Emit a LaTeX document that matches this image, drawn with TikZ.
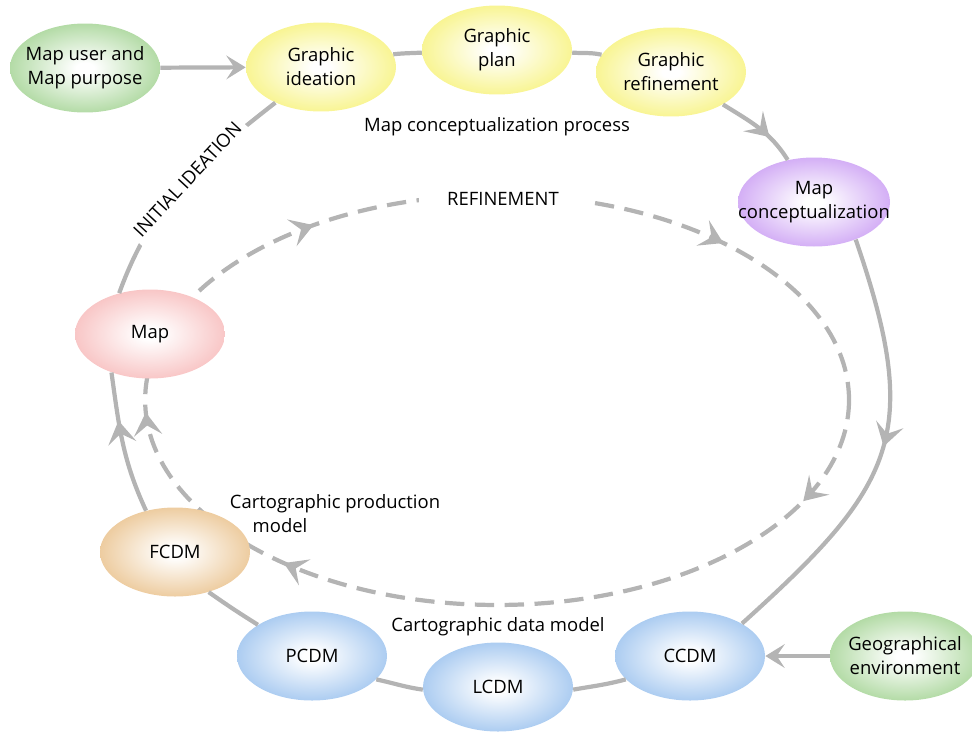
\documentclass[tikz,border=0pt]{standalone}
\usepackage{fontspec}
\setmainfont{Open Sans}
\usetikzlibrary{shapes.geometric,arrows.meta,decorations.markings}
\definecolor{lgray}{RGB}{180,180,180}
\definecolor{cgreen}{RGB}{152,206,134}
\definecolor{cyellow}{RGB}{246,241,108}
\definecolor{cpurple}{RGB}{196,146,242}
\definecolor{cpink}{RGB}{246,178,178}
\definecolor{ctan}{RGB}{231,186,126}
\definecolor{cblue}{RGB}{142,186,236}
\pgfdeclareradialshading{shgreen}{\pgfpoint{0bp}{0bp}}{color(0bp)=(white); color(3bp)=(white); color(33bp)=(cgreen); color(50bp)=(cgreen)}
\pgfdeclareradialshading{shyellow}{\pgfpoint{0bp}{0bp}}{color(0bp)=(white); color(3bp)=(white); color(33bp)=(cyellow); color(50bp)=(cyellow)}
\pgfdeclareradialshading{shpurple}{\pgfpoint{0bp}{0bp}}{color(0bp)=(white); color(3bp)=(white); color(33bp)=(cpurple); color(50bp)=(cpurple)}
\pgfdeclareradialshading{shpink}{\pgfpoint{0bp}{0bp}}{color(0bp)=(white); color(3bp)=(white); color(33bp)=(cpink); color(50bp)=(cpink)}
\pgfdeclareradialshading{shtan}{\pgfpoint{0bp}{0bp}}{color(0bp)=(white); color(3bp)=(white); color(33bp)=(ctan); color(50bp)=(ctan)}
\pgfdeclareradialshading{shblue}{\pgfpoint{0bp}{0bp}}{color(0bp)=(white); color(3bp)=(white); color(33bp)=(cblue); color(50bp)=(cblue)}
\tikzset{
  blob/.style={ellipse, minimum width=3cm, minimum height=1.78cm, inner sep=0pt, draw=none, shade, shading=#1},
  lbl/.style={align=center, font=\fontsize{10.5}{13.6}\selectfont, text=black},
  txt/.style={align=center, font=\fontsize{10.5}{13.6}\selectfont, text=black, inner sep=1pt},
  conn/.style={color=lgray, line width=2.4pt},
  barb/.tip={Stealth[length=11pt,width=13.5pt,inset=4.5pt]},
  midbarb/.tip={Stealth[length=13pt,width=16pt,inset=5.5pt]},
  tip/.style={-barb},
  midarrow/.style={postaction={decorate}, decoration={markings, mark=at position #1 with {\arrow{midbarb}}}},
  dashconn/.style={conn, dash pattern=on 11pt off 6pt},
}
\begin{document}
\begin{tikzpicture}[x=0.02cm,y=0.02cm]
\useasboundingbox (0,0) rectangle (972,-731);
% refinement loop (dashed)
\draw[dashconn, postaction={decorate}, decoration={markings,
   mark=at position 0.064 with {\arrow{midbarb}},
   mark=at position 0.373 with {\arrow{midbarb}},
   mark=at position 0.493 with {\arrow{midbarb}},
   mark=at position 0.645 with {\arrow{midbarb}},
   mark=at position 0.881 with {\arrow{midbarb}}}]
   (849,-400) arc[start angle=0, end angle=-360, x radius=7.04cm, y radius=4.1cm];
\node[txt, fill=white, inner xsep=16pt, inner ysep=3pt] (refl) at (503,-199) {REFINEMENT};

% nodes
\node[blob=shgreen, label={[lbl]center:Map user and\\Map purpose}] (user) at (85,-68) {};
\node[blob=shyellow, label={[lbl]center:Graphic\\ideation}] (ideation) at (321,-67) {};
\node[blob=shyellow, label={[lbl]center:Graphic\\plan}] (plan) at (497,-50) {};
\node[blob=shyellow, label={[lbl]center:Graphic\\refinement}] (refine) at (671,-72) {};
\node[blob=shpurple, minimum width=3.04cm, label={[lbl]center:Map\\conceptualization}] (concept) at (814,-202) {};
\node[blob=shpink, label={[lbl]center:Map}] (map) at (150,-334) {};
\node[blob=shtan, label={[lbl]center:FCDM}] (fcdm) at (175,-552) {};
\node[blob=shblue, label={[lbl]center:PCDM}] (pcdm) at (312,-656) {};
\node[blob=shblue, label={[lbl]center:LCDM}] (lcdm) at (498,-687) {};
\node[blob=shblue, label={[lbl]center:CCDM}] (ccdm) at (690,-656) {};
\node[blob=shgreen, label={[lbl]center:Geographical\\environment}] (geo) at (905,-656) {};

% text labels
\node[txt] (proc) at (497,-127) {Map conceptualization process};
\node[txt] (datam) at (498,-627) {Cartographic data model};
\node[txt] (prodm) at (335,-514) {Cartographic production\\model\hspace*{2.2cm}};

% connectors
\draw[conn, tip] (user) -- (ideation);
\draw[conn] (ideation.10) to[out=6, in=183] (plan.182);
\draw[conn] (plan.-2) to[out=-4, in=168] (refine.166);
\draw[conn, midarrow=0.66] (refine.-32) to[out=-32, in=122] (concept.122);
\draw[conn, midarrow=0.48] (concept.-42) to[out=-71, in=42, looseness=1.32] (ccdm.32);
\draw[conn] (ccdm.200) to[out=195, in=10] (lcdm.-2);
\draw[conn] (lcdm.182) to[out=172, in=-12] (pcdm.-20);
\draw[conn] (pcdm.150) to[out=148, in=-35] (fcdm.-50);
\draw[conn, midarrow=0.66] (fcdm.125) to[out=115, in=-82] (map.-135);
\draw[conn] (map.127) to[out=70, in=-142]
   node[pos=0.54, sloped, fill=white, text=black, inner xsep=3pt, inner ysep=6pt,
        font=\fontsize{10.5}{12}\selectfont] (initl) {INITIAL IDEATION} (ideation.-142);
\draw[conn, tip] (geo) -- (ccdm);
\end{tikzpicture}
\end{document}
